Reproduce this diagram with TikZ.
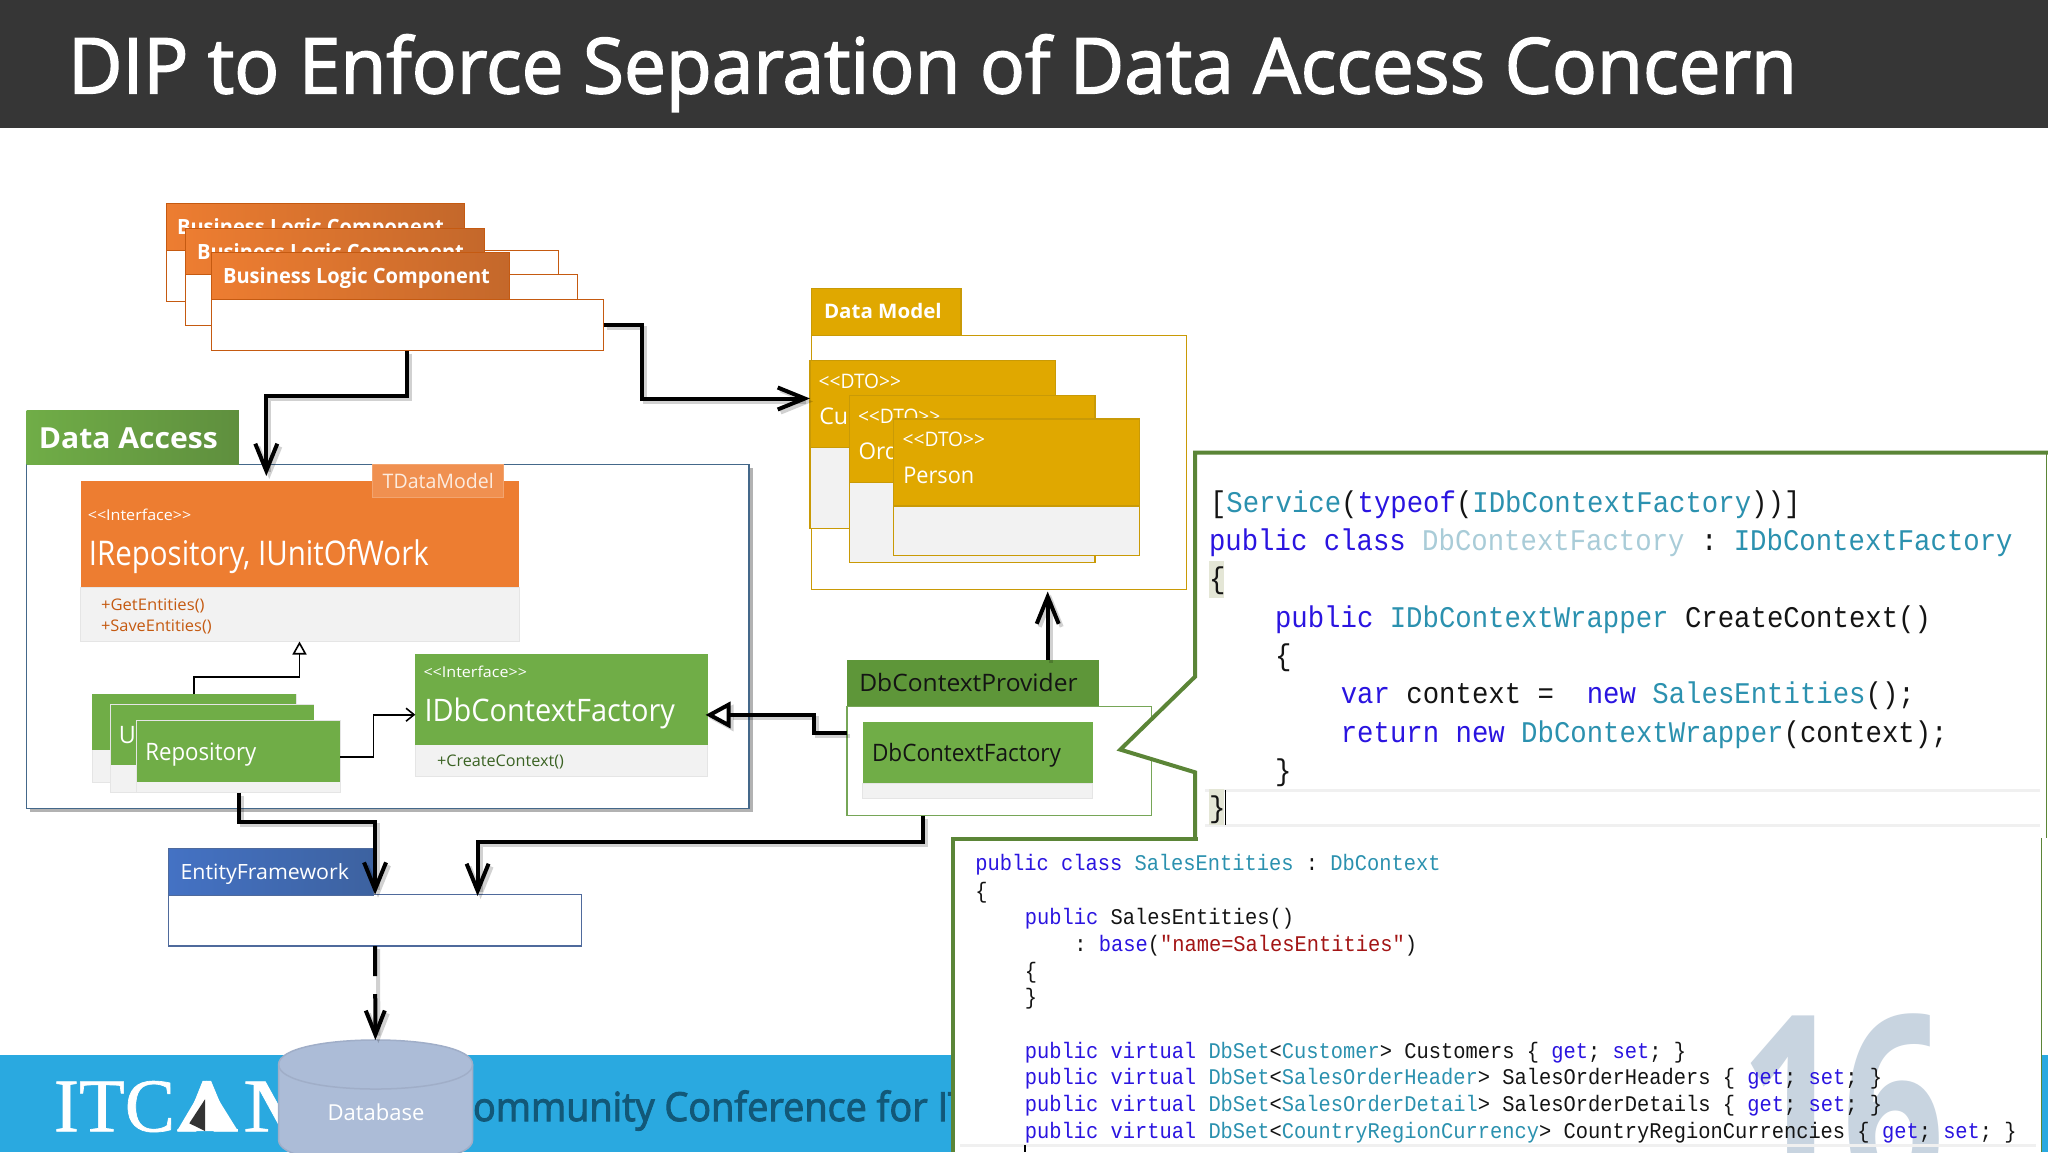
\documentclass[tikz,border=0pt]{standalone}
\usepackage{fontspec}
\usepackage{graphicx}
\usetikzlibrary{arrows.meta}
\setmainfont{Open Sans}
\newfontfamily\titlefont[FakeBold=2]{Open Sans}
\newfontfamily\conffont[FakeBold=2.5]{Open Sans}
\newfontfamily\codefont[FakeStretch=0.911]{Liberation Mono}
\newfontfamily\logofont[FakeBold=0.9]{Liberation Serif}
\definecolor{orng}{HTML}{ED7D31}
\definecolor{orngd}{HTML}{C55A11}
\definecolor{orngg}{HTML}{C4682B}
\definecolor{grn}{HTML}{70AD47}
\definecolor{grng}{HTML}{5F8F3E}
\definecolor{grnd}{HTML}{5E9639}
\definecolor{grnt}{HTML}{3B6324}
\definecolor{panelg}{HTML}{5B8537}
\definecolor{gold}{HTML}{E0A800}
\definecolor{goldd}{HTML}{C99A06}
\definecolor{body}{HTML}{F2F2F2}
\definecolor{kwc}{HTML}{2A14E0}
\definecolor{tyc}{HTML}{2B91AF}
\definecolor{fac}{HTML}{A9CCD8}
\definecolor{strc}{HTML}{A31515}
\definecolor{blk}{HTML}{141414}
\definecolor{barc}{HTML}{363636}
\definecolor{footc}{HTML}{2AA9E0}
\definecolor{confc}{HTML}{125878}
\definecolor{dbf}{HTML}{ACBCD7}
\definecolor{dbl}{HTML}{A0AEC8}
\definecolor{efa}{HTML}{4472C4}
\definecolor{efb}{HTML}{3D62A0}
\definecolor{efl}{HTML}{4F6A9C}
\definecolor{dal}{HTML}{44688A}
\definecolor{numc}{HTML}{C8D4E0}
\definecolor{hil}{HTML}{E4E6D6}
\newcommand\kw[1]{\textcolor{kwc}{#1}}
\newcommand\ty[1]{\textcolor{tyc}{#1}}
\newsavebox\fitbox
\newcommand\fitw[2]{\sbox\fitbox{#2}\pgfmathsetmacro\fitr{#1/\the\wd\fitbox}\scalebox{\fitr}[1]{\usebox\fitbox}}
% name, x, y centre, width, size, colour, text
\newcommand\lab[7]{\node[anchor=base west,inner sep=0,outer sep=0,text=#6] (#1) at ({#2},{#3+0.36*#5}) {\fitw{#4}{\fontsize{#5}{#5}\selectfont #7}};}
% name, x, y centre, size, text
\newcommand\codeln[5]{\node[anchor=base west,inner sep=0,outer sep=0,text=blk] (#1) at ({#2},{#3+0.29*#4}) {\fontsize{#4}{#4}\codefont #5};}
% style, name, x1, y1, x2, y2
\newcommand\bx[6]{\node[rectangle,inner sep=0,outer sep=0,anchor=north west,minimum width={#5-#3},minimum height={#6-#4},#1] (#2) at (#3,#4) {};}
\tikzset{
  orhead/.style={draw=orngd,line width=1pt,left color=orng,right color=orngg},
  orbody/.style={draw=orngd,line width=1pt,fill=white},
  gnhead/.style={fill=grn},
  gnbody/.style={fill=body,draw=black!10,line width=.8pt},
  dthead/.style={fill=gold,draw=goldd,line width=1.2pt},
  dtbody/.style={fill=body,draw=goldd,line width=1.2pt},
  conn/.style={draw=black,line width=4pt,line join=miter,
    preaction={draw=black,opacity=.18,line width=4pt,transform canvas={xshift=3pt,yshift=-3pt}}},
  thin conn/.style={draw=black,line width=1.6pt},
  bigv/.style={-{Straight Barb[length=27pt,width=22pt,line width=4pt]}},
  panelline/.style={draw=panelg,line width=4pt},
}
\begin{document}
\begin{tikzpicture}[x=1pt,y=-1pt]
\useasboundingbox (0,0) rectangle (2048,1152);
\clip (0,0) rectangle (2048,1152);
\fill[white] (0,0) rectangle (2048,1152);
\fill[barc] (0,0) rectangle (2048,128);
\lab{title}{68}{65.6}{1729}{77}{white}{\titlefont DIP to Enforce Separation of Data Access Concern}
\fill[footc] (0,1055) rectangle (2048,1152);
\lab{logoA}{54}{1104}{121}{76}{white}{\logofont ITC}
\fill[white] (206.7,1080.7) -- (238,1131) -- (177,1131) -- cycle;
\lab{logoB}{177}{1104}{61}{76}{white}{\logofont A}
\fill[black!80] (205,1099.3) -- (189.3,1123.3) -- (205,1131) -- cycle;
\lab{logoC}{243}{1104}{87}{76}{white}{\logofont M}
\lab{conf}{473}{1106.6}{496}{40}{confc}{\conffont ommunity Conference for IT}

% Business logic stack
\bx{orbody}{blcA}{166}{250.2}{558}{301.6}
\bx{orhead}{blcAh}{166}{203.7}{464}{250.2}
\lab{blcAt}{177}{227.3}{267}{21}{white}{\bfseries Business Logic Component}
\bx{orbody}{blcB}{185}{274.7}{577.6}{325.7}
\bx{orhead}{blcBh}{185}{228.2}{484}{274.7}
\lab{blcBt}{197}{251.8}{267}{21}{white}{\bfseries Business Logic Component}
\bx{orbody}{blcC}{211.2}{299.6}{603.6}{350.6}
\bx{orhead}{blcCh}{211.2}{252.7}{509.7}{299.6}
\lab{blcCt}{223}{276.3}{267}{21}{white}{\bfseries Business Logic Component}

% Data access package
\fill[black!30] (30,468) rectangle (753,812);
\bx{draw=dal,line width=1.6pt,fill=white}{da}{26.5}{464.5}{749}{808.6}
\bx{left color=grn,right color=grng}{dah}{26.5}{410.6}{238.8}{464.5}
\lab{dat}{38.8}{438}{179}{29}{white}{\bfseries Data Access}

\bx{fill=body,draw=black!10}{repoB}{80.6}{587.3}{518.9}{641.2}
\bx{fill=orng}{repoH}{80.6}{480.8}{518.9}{587.3}
\bx{fill=orng!85!white,draw=orng!70!white,line width=1pt}{tdm}{372.4}{464}{503.6}{497.6}
\lab{tdmt}{382.7}{480.8}{111}{20}{orng!15!white}{TDataModel}
\lab{repoS}{87.8}{515.5}{103.5}{15}{white}{<{}<Interface>{}>}
\lab{repoN}{88.8}{553.5}{340}{34}{white}{IRepository, IUnitOfWork}
\lab{repoM}{101}{604.5}{103.6}{16}{orngd}{+GetEntities()}
\lab{repoN2}{101}{625.7}{110.7}{16}{orngd}{+SaveEntities()}

\bx{gnbody}{uA}{92.3}{694.3}{296}{782}
\bx{gnhead}{uAh}{92.3}{694.3}{296}{750.2}
\bx{gnbody}{uB}{110.7}{704.5}{313.8}{792.7}
\bx{gnhead}{uBh}{110.7}{704.5}{313.8}{765.3}
\lab{uBt}{118.9}{735}{17}{24}{white}{U}
\bx{gnbody}{uC}{136.7}{720.8}{340.3}{792.7}
\bx{gnhead}{uCh}{136.7}{720.8}{340.3}{781.6}
\lab{uCt}{145.4}{752.2}{111}{24}{white}{Repository}

\bx{gnbody}{idbB}{415.3}{744.5}{707.7}{776.3}
\bx{gnhead}{idbH}{415.3}{653.9}{707.7}{744.5}
\lab{idbS}{423.5}{672.2}{103.5}{15}{white}{<{}<Interface>{}>}
\lab{idbN}{424.5}{710.6}{250.5}{31}{white}{IDbContextFactory}
\lab{idbM}{437}{761.2}{127}{16}{grnt}{+CreateContext()}

% Data model package
\bx{fill=white,draw=goldd,line width=1.2pt}{dm}{811.7}{335.2}{1186.3}{589.6}
\bx{dthead}{dmh}{811.7}{288.5}{961}{335.2}
\lab{dmt}{824}{311.5}{117.7}{20}{white}{\bfseries Data Model}
\bx{dtbody}{dtoA}{810}{360.7}{1055.7}{528.1}
\bx{dthead}{dtoAh}{810}{360.7}{1055.7}{447.8}
\lab{dtoAs}{818.7}{381}{82.3}{20}{white}{<{}<DTO>{}>}
\lab{dtoAn}{819.3}{416.7}{40}{23}{white}{Cus}
\bx{dtbody}{dtoB}{849.3}{395.2}{1095}{562.6}
\bx{dthead}{dtoBh}{849.3}{395.2}{1095}{482.2}
\lab{dtoBs}{858}{416}{82.3}{20}{white}{<{}<DTO>{}>}
\lab{dtoBn}{858.7}{451.5}{40}{23}{white}{Ord}
\bx{dtbody}{dtoC}{893.3}{418.9}{1139.3}{555.2}
\bx{dthead}{dtoCh}{893.3}{418.9}{1139.3}{505.9}
\lab{dtoCs}{902.7}{439.6}{82.3}{20}{white}{<{}<DTO>{}>}
\lab{dtoCn}{903.3}{475.2}{71}{23}{white}{Person}

% Provider
\bx{fill=white,draw=grnd!85!white,line width=1.2pt}{prov}{847}{706.3}{1151.3}{815.6}
\bx{fill=grnd}{provh}{847}{660}{1098.7}{706.3}
\lab{provt}{859.3}{683}{218.3}{24}{blk}{DbContextProvider}
\bx{gnbody}{fac}{862.7}{783.3}{1092.7}{798.5}
\bx{gnhead}{fach}{862.7}{721.9}{1092.7}{783.3}
\lab{fact}{872}{752.6}{189}{24}{blk}{DbContextFactory}

% Entity framework
\bx{fill=white,draw=efl,line width=1.4pt}{ef}{168.4}{894.7}{581.7}{946}
\bx{left color=efa,right color=efb,draw=efl}{efh}{168.4}{848.3}{373.5}{894.7}
\lab{eft}{180.6}{871.7}{168.4}{21}{white}{EntityFramework}

% Database
\draw[fill=dbf,draw=dbl,line width=1.5pt]
  (278.6,1064.5) .. controls (278.6,1031.8) and (472.6,1031.8) .. (472.6,1064.5)
  -- (472.6,1140) .. controls (472.6,1172) and (278.6,1172) .. (278.6,1140) -- cycle;
\draw[draw=dbl,line width=1.5pt]
  (278.6,1064.5) .. controls (278.6,1097.2) and (472.6,1097.2) .. (472.6,1064.5);
\lab{db}{327.6}{1113}{97}{22}{white}{Database}

% Connection points
\coordinate (repoIn) at (266.3,476);
\coordinate (dmIn) at (810,398.5);
\coordinate (dmS) at (1047.7,591.5);
\coordinate (provL) at (847,733);
\coordinate (provB) at (923.3,815.6);
\coordinate (idbE) at (705.5,714.9);
\coordinate (idbW) at (415.3,714.7);
\coordinate (uOut) at (340.3,756.7);
\coordinate (uTop) at (193.9,694.3);
\coordinate (repoS2) at (299.5,641.5);
\coordinate (efIn) at (477.6,896);
\coordinate (dbTop) at (375.4,1040);

% Connectors
\draw[conn,bigv] (blcC.south) -- ++(0,45) -| (repoIn);
\draw[conn,bigv] (blcC.east) -- ++(38.2,0) |- (dmIn);
\draw[conn,-{Triangle[open,fill=white,length=25pt,width=26pt,line width=4pt]}] (provL) -- ++(-32.7,0) |- (idbE);
\draw[conn,bigv] (dmS |- provh.north) -- (dmS);
\draw[conn,bigv] (uC.south) -- ++(0,29.6) -| (ef.north);
\draw[conn,bigv] (provB) -- ++(0,26) -| (efIn);
\draw[conn,-{Straight Barb[length=24pt,width=19pt,line width=4pt]},dash pattern=on 30pt off 18pt on 60pt off 0pt] (ef.south) -- (dbTop);
\draw[thin conn,-{Triangle[open,fill=white,length=13pt,width=14pt,line width=1.6pt]}] (uTop) -- ++(0,-17.3) -| (repoS2);
\draw[thin conn,-{Straight Barb[length=8pt,width=13pt,line width=1.6pt]}] (uOut) -- ++(33.2,0) |- (idbW);

% Code panel 1
\fill[white] (1195,452.7) -- (2046,452.7) -- (2046,838) -- (1195,838) -- (1195,772.3) -- (1120.3,749.6) -- (1195,676.7) -- cycle;
\draw[panelline,line join=miter] (2048,452.7) -- (1195,452.7) -- (1195,676.7) -- (1120.3,749.6) -- (1195,772.3) -- (1195,840);
\draw[panelg,line width=1.5pt] (2046.5,452.7) -- (2046.5,838);
\fill[black!6] (1205,789) rectangle (2040,792);
\fill[black!6] (1205,824) rectangle (2040,827);
\fill[hil] (1208.5,560.7) rectangle (1223.7,598.3);
\fill[hil] (1208.5,789.3) rectangle (1223.7,825);
\codeln{p1a}{1210}{503.3}{30}{[\ty{Service}(\kw{typeof}(\ty{IDbContextFactory}))]}
\codeln{p1b}{1209}{541.7}{30}{\kw{public}\ \kw{class}\ \textcolor{fac}{DbContextFactory}\ :\ \ty{IDbContextFactory}}
\codeln{p1c}{1209}{580}{30}{\{}
\codeln{p1d}{1275}{618.3}{30}{\kw{public}\ \ty{IDbContextWrapper}\ CreateContext()}
\codeln{p1e}{1275}{656.7}{30}{\{}
\codeln{p1f}{1340.8}{695}{30}{\kw{var}\ context\ =\ \ \kw{new}\ \ty{SalesEntities}();}
\codeln{p1g}{1340.8}{733.3}{30}{\kw{return}\ \kw{new}\ \ty{DbContextWrapper}(context);}
\codeln{p1h}{1275}{771.7}{30}{\}}
\codeln{p1i}{1209}{808.3}{30}{\}}
\draw[black,line width=1.5pt] (1225.4,790) -- (1225.4,825);

% Code panel 2
\fill[white] (952.7,838.5) rectangle (2041,1152);
\lab{num}{1740}{1108}{205}{260}{numc}{\bfseries 16}
\draw[panelline,line join=miter] (1198,838.5) -- (952.7,838.5) -- (952.7,1152);
\draw[panelg,line width=1.5pt] (2041.5,838) -- (2041.5,1152);
\fill[black!6] (960,1144) rectangle (2036,1147);
\codeln{p2a}{975.3}{864}{22.4}{\kw{public}\ \kw{class}\ \ty{SalesEntities}\ :\ \ty{DbContext}}
\codeln{p2b}{975.3}{891.7}{22.4}{\{}
\codeln{p2c}{1024.8}{918.3}{22.4}{\kw{public}\ SalesEntities()}
\codeln{p2d}{1074.3}{945}{22.4}{:\ \kw{base}(\textcolor{strc}{"name=SalesEntities"})}
\codeln{p2e}{1024.8}{971.7}{22.4}{\{}
\codeln{p2f}{1024.8}{998.3}{22.4}{\}}
\codeln{p2g}{1024.8}{1051.7}{22.4}{\kw{public}\ \kw{virtual}\ \ty{DbSet}<\ty{Customer}>\ Customers\ \{\ \kw{get};\ \kw{set};\ \}}
\codeln{p2h}{1024.8}{1078.3}{22.4}{\kw{public}\ \kw{virtual}\ \ty{DbSet}<\ty{SalesOrderHeader}>\ SalesOrderHeaders\ \{\ \kw{get};\ \kw{set};\ \}}
\codeln{p2i}{1024.8}{1105}{22.4}{\kw{public}\ \kw{virtual}\ \ty{DbSet}<\ty{SalesOrderDetail}>\ SalesOrderDetails\ \{\ \kw{get};\ \kw{set};\ \}}
\codeln{p2j}{1024.8}{1131.7}{22.4}{\kw{public}\ \kw{virtual}\ \ty{DbSet}<\ty{CountryRegionCurrency}>\ CountryRegionCurrencies\ \{\ \kw{get};\ \kw{set};\ \}}
\draw[black,line width=1.5pt] (1024.8,1145) -- (1024.8,1152);
\end{tikzpicture}
\end{document}
